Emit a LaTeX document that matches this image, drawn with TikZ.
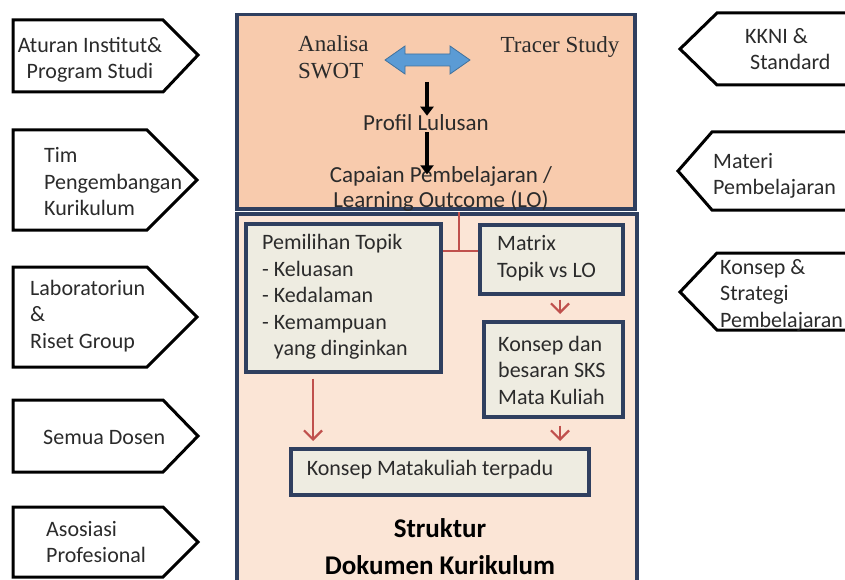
\documentclass[tikz,border=0pt]{standalone}
\usepackage{fontspec}
\setmainfont{Carlito}
\newfontfamily\tnr{Liberation Serif}
\usetikzlibrary{arrows.meta,calc}
\definecolor{navy}{HTML}{2F3F5F}
\definecolor{peachA}{HTML}{F8CBAD}
\definecolor{peachB}{HTML}{FBE5D6}
\definecolor{boxfill}{HTML}{EEECE1}
\definecolor{redc}{HTML}{C0504D}
\definecolor{bluef}{HTML}{5B9BD5}
\definecolor{blued}{HTML}{41719C}
\definecolor{txt}{HTML}{2B2B2B}
\tikzset{
  pent/.style={draw=black, line width=3pt, line join=miter, fill=white},
  ptxt/.style={font=\fontsize{22}{26.5}\selectfont, text=txt, align=left, inner sep=0pt},
  bigbox/.style={draw=navy, line width=3.5pt, inner sep=0pt, anchor=north west},
  inbox/.style={draw=navy, line width=3.5pt, fill=boxfill, inner sep=0pt, anchor=north west},
  btxt/.style={font=\fontsize{22}{26.5}\selectfont, text=txt, align=left, inner sep=0pt, anchor=west},
  redline/.style={draw=redc, line width=2pt},
  redarrow/.style={draw=redc, line width=2.2pt, -{Straight Barb[length=9pt,width=18pt]}},
  blkarrow/.style={draw=black, line width=3.5pt, -{Triangle[length=9pt,width=13pt]}},
}
\begin{document}
\begin{tikzpicture}[x=1pt,y=-1pt]
\useasboundingbox (0,0) rectangle (845,580);
% ---------- left pentagons
\draw[pent] (13,20) -- (163,20) -- (198,55) -- (163,92) -- (13,92) -- cycle;
\node[ptxt, align=center] (l1) at (90,60) {Aturan Institut\&\\Program Studi};
\draw[pent] (13,130) -- (147,130) -- (197,180) -- (147,230) -- (13,230) -- cycle;
\node[ptxt, anchor=west] (l2) at (44,182) {Tim\\Pengembangan\\Kurikulum};
\draw[pent] (13,267) -- (147,267) -- (197,317) -- (147,367) -- (13,367) -- cycle;
\node[ptxt, anchor=west] (l3) at (30,316) {Laboratoriun\\\&\\Riset Group};
\draw[pent] (13,400) -- (163,400) -- (198,436) -- (163,472) -- (13,472) -- cycle;
\node[ptxt, anchor=west] (l4) at (43,437) {Semua Dosen};
\draw[pent] (13,507) -- (163,507) -- (198,542) -- (163,577) -- (13,577) -- cycle;
\node[ptxt, anchor=west] (l5) at (46,542) {Asosiasi\\Profesional};
% ---------- right pentagons
\draw[pent] (850,13) -- (717,13) -- (680,49) -- (717,85) -- (850,85);
\node[ptxt, anchor=west] (r1) at (745,49) {KKNI \&\\\hspace{5pt}Standard};
\draw[pent] (850,132) -- (712,132) -- (678,171) -- (712,210) -- (850,210);
\node[ptxt, anchor=west] (r2) at (713,176) {Materi\\Pembelajaran};
\draw[pent] (850,253) -- (717,253) -- (680,292) -- (717,330) -- (850,330);
\node[ptxt, anchor=west] (r3) at (720,295) {Konsep \&\\Strategi\\Pembelajaran};
% ---------- big boxes
\node[bigbox, fill=peachB, minimum width=400pt, minimum height=380pt] (botbox) at (235,212) {};
\node[bigbox, fill=peachA, minimum width=398pt, minimum height=194pt] (topbox) at (235,13) {};
% top box content
\node[font=\tnr\fontsize{23}{27}\selectfont, text=txt, align=left, inner sep=0pt, anchor=west] (swot) at (298,57) {Analisa\\SWOT};
\node[font=\tnr\fontsize{23}{27}\selectfont, text=txt, inner sep=0pt] (tracer) at (560,47) {Tracer Study};
\draw[fill=bluef, draw=blued, line width=0.8pt] (385,60) -- (405,46) -- (405,54) -- (450,54) -- (450,46) -- (470,60) -- (450,74) -- (450,66) -- (405,66) -- (405,74) -- cycle;
\node[font=\fontsize{23}{25}\selectfont, text=txt, inner sep=0pt] (profil) at (426,123) {Profil Lulusan};
\node[font=\fontsize{23}{25}\selectfont, text=txt, align=center, inner sep=0pt] (cp) at (441,189) {Capaian Pembelajaran /\\Learning Outcome (LO)};
\coordinate (a1s) at (427,82);
\draw[blkarrow] (a1s) -- ([yshift=-1pt]profil.north -| a1s);
\draw[blkarrow] ([yshift=-1pt]profil.south -| a1s) -- ([yshift=-8pt]cp.north -| a1s);
% inner boxes
\node[inbox, minimum width=195pt, minimum height=148pt] (pem) at (244,222) {};
\node[btxt] (pemtxt) at (262,297) {Pemilihan Topik\\- Keluasan\\- Kedalaman\\- Kemampuan\\\phantom{- }yang dinginkan};
\node[inbox, minimum width=143pt, minimum height=69pt] (mat) at (478,223) {};
\node[btxt] (mattxt) at (497,258) {Matrix\\Topik vs LO};
\node[inbox, minimum width=139pt, minimum height=95pt] (ksks) at (482,320) {};
\node[btxt] (ksktxt) at (498,370) {Konsep dan\\besaran SKS\\Mata Kuliah};
\node[inbox, minimum width=298pt, minimum height=46pt] (kmk) at (289,447) {};
\node[btxt, anchor=center] (kmktxt) at (430,470) {Konsep Matakuliah terpadu};
\node[font=\bfseries\fontsize{27}{37}\selectfont, text=black, align=center, inner sep=0pt] (struk) at (440,547) {Struktur\\Dokumen Kurikulum};
% connectors
\coordinate (jn) at (459,251);
\draw[redline] (botbox.north -| jn) -- (jn);
\draw[redline] (pem.east |- jn) -- (mat.west |- jn);
\coordinate (ax) at (313,0);
\draw[redarrow, shorten <=5pt, shorten >=6pt] (pem.south -| ax) -- (kmk.north -| ax);
\coordinate (bx) at (560,0);
\draw[redarrow, shorten <=4pt, shorten >=6pt] (mat.south -| bx) -- (ksks.north -| bx);
\draw[redarrow, shorten <=7pt, shorten >=6pt] (ksks.south -| bx) -- (kmk.north -| bx);
\end{tikzpicture}
\end{document}
